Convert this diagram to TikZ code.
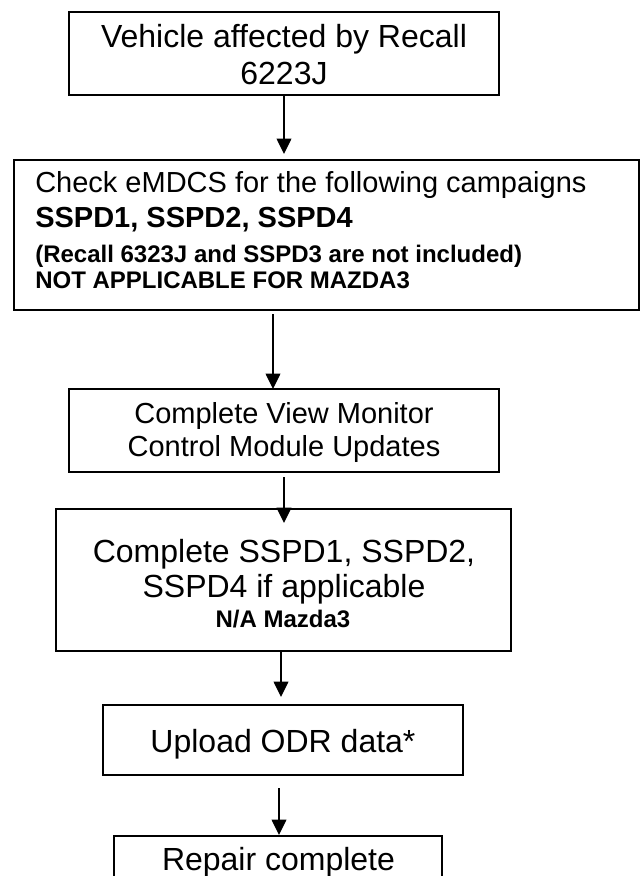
\documentclass[tikz,border=0pt]{standalone}
\usepackage{fontspec}
\setmainfont{Liberation Sans}
\usetikzlibrary{arrows.meta,calc}
\tikzset{
  box/.style={draw=black, line width=1.5pt, rectangle, inner sep=0pt, outer sep=0pt},
  arr/.style={line width=1.1pt, -{Triangle[width=11pt,length=11.5pt]}},
  big/.style={font=\fontsize{24}{28}\selectfont, inner sep=0pt},
  mid/.style={font=\fontsize{21.75}{25}\selectfont, inner sep=0pt},
  midb/.style={font=\fontsize{21.75}{25}\selectfont\bfseries, inner sep=0pt},
  smallb/.style={font=\fontsize{18}{21}\selectfont\bfseries, inner sep=0pt},
}
\begin{document}
\begin{tikzpicture}[x=0.75pt,y=-0.75pt]
\useasboundingbox (0,0) rectangle (640,876);
\fill[white] (0,0) rectangle (640,876);
\clip (0,0) rectangle (640,876);

% boxes
\node[box, minimum width=322.5pt, minimum height=62.25pt] (b1) at (284,53.5) {};
\node[box, minimum width=468.75pt, minimum height=112.5pt] (b2) at (326.5,235) {};
\node[box, minimum width=322.5pt, minimum height=62.25pt] (b3) at (284,430.5) {};
\node[box, minimum width=341.25pt, minimum height=106.5pt] (b4) at (283.5,580) {};
\node[box, minimum width=270pt, minimum height=52.5pt] (b5) at (283,740) {};
\node[box, minimum width=246pt, minimum height=45pt] (b6) at (278,866) {};

% texts
\node[big, anchor=base] (t1a) at (284,47) {Vehicle affected by Recall};
\node[big, anchor=base] (t1b) at (284,84) {6223J};

\node[mid, anchor=base west] (t2a) at (35,192) {Check eMDCS for the following campaigns};
\node[midb, anchor=base west] (t2b) at (35,227) {SSPD1, SSPD2, SSPD4};
\node[smallb, anchor=base west] (t2c) at (35,262) {(Recall 6323J and SSPD3 are not included)};
\node[smallb, anchor=base west] (t2d) at (35,288) {NOT APPLICABLE FOR MAZDA3};

\node[mid, anchor=base] (t3a) at (284,423) {Complete View Monitor};
\node[mid, anchor=base] (t3b) at (284,456) {Control Module Updates};

\node[big, anchor=base] (t4a) at (284,562) {Complete SSPD1, SSPD2,};
\node[big, anchor=base] (t4b) at (284,597) {SSPD4 if applicable};
\node[smallb, anchor=base] (t4c) at (283,627) {N/A Mazda3};

\node[big, anchor=base] (t5) at (283,752) {Upload ODR data*};
\node[big, anchor=base] (t6) at (278.5,870) {Repair complete};

% connectors
\draw[arr] (b1.south) -- ($(b1.south |- b2.north)+(0,-6)$);
\coordinate (a2) at (273,314);
\draw[arr] (a2) -- (a2 |- b3.north);
\draw[arr] ($(b3.south)+(0,5)$) -- ($(b3.south |- b4.north)+(0,14)$);
\draw[arr] ($(b4.south)+(-2.5,0)$) -- ($(b4.south |- b5.north)+(-2.5,-8)$);
\draw[arr] ($(b5.south)+(-4,13)$) -- ($(b5.south |- b6.north)+(-4,-1)$);
\end{tikzpicture}
\end{document}
